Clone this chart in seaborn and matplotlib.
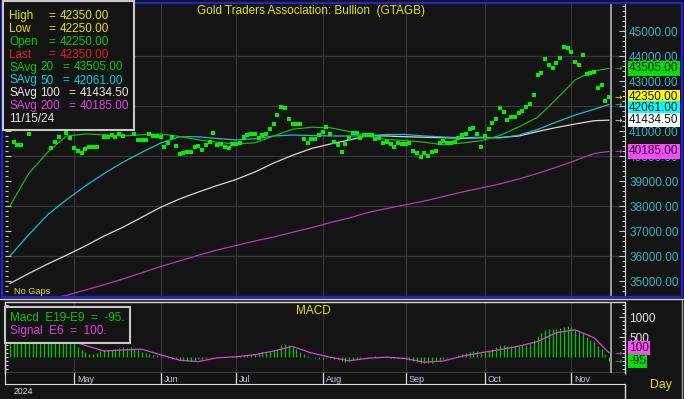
import numpy as np
import pandas as pd
import matplotlib
matplotlib.use("Agg")
import matplotlib.pyplot as plt
from matplotlib.patches import Rectangle
from matplotlib.ticker import MultipleLocator, FixedLocator, FormatStrFormatter
import seaborn as sns

# --- Data ---
DATES = pd.bdate_range("2024-04-08", "2024-11-15")  # 160 trading days

PRICE = [
    41150, 40570, 40440, 40440, 41300, 40900, 41500, 41700, 41600, 41400,
    41250, 40310, 40570, 40770, 41200, 40910, 40710, 40310, 40210, 40110,
    40270, 40370, 40370, 40370, 41150, 40770, 40750, 40840, 40770, 40880,
    40800, 41150, 41200, 40880, 40640, 40640, 40640, 40880, 40800, 40800,
    40770, 40370, 40510, 40750, 40410, 40080, 40130, 40170, 40170, 40350,
    40410, 40240, 40440, 40570, 40930, 40440, 40470, 40370, 40310, 40470,
    40470, 40530, 40770, 40840, 40880, 40870, 40730, 40840, 40870, 41070,
    41270, 41640, 41970, 41930, 41470, 41270, 41270, 41270, 40670, 40530,
    40670, 40670, 40840, 40970, 41170, 40880, 40570, 40440, 40170, 40470,
    40710, 40910, 40910, 40710, 40840, 40840, 40840, 40670, 40710, 40530,
    40570, 40470, 40370, 40530, 40470, 40470, 40530, 40210, 40110, 39970,
    40130, 40010, 40170, 40210, 40510, 40610, 40530, 40530, 40570, 40710,
    40840, 40870, 41070, 41130, 40870, 40370, 40820, 41070, 41310, 41470,
    41910, 41770, 41440, 41550, 41550, 41730, 41810, 41950, 42080, 42430,
    43230, 43330, 43870, 43630, 43520, 43720, 43930, 44370, 44330, 44160,
    43760, 43630, 44040, 43270, 43330, 43370, 42720, 42830, 42210, 42350,
]
LAST_BAR = {"High": 42350, "Low": 42250, "Open": 42250, "Last": 42350}

# moving averages / signal read every 5th bar plus the last one
SAMPLE_DATES = list(DATES[::5]) + [DATES[-1]]
SAVG20 = [38000, 39300, 40150, 40800, 40880, 40850, 40800, 40850, 40880, 40780,
          40650, 40550, 40480, 40530, 40800, 41070, 41150, 41130, 40980, 40790,
          40660, 40620, 40550, 40450, 40520, 40610, 40820, 41160, 41550, 42280,
          43050, 43400, 43505]
SAVG50 = [36000, 36850, 37650, 38250, 38800, 39300, 39750, 40150, 40520, 40770,
          40770, 40700, 40640, 40690, 40800, 40840, 40820, 40800, 40800, 40810,
          40860, 40860, 40800, 40760, 40730, 40750, 40720, 40830, 41060, 41360,
          41640, 41870, 42061]
SAVG100 = [34900, 35300, 35680, 36030, 36400, 36800, 37150, 37550, 37950, 38280,
           38560, 38820, 39060, 39360, 39720, 40030, 40300, 40480, 40640, 40820,
           40800, 40770, 40750, 40730, 40710, 40730, 40740, 40800, 40980, 41140,
           41280, 41410, 41434.5]
SAVG200 = [33950, 34120, 34280, 34420, 34640, 34850, 35080, 35330, 35580, 35800,
           36030, 36240, 36420, 36600, 36760, 36950, 37130, 37340, 37520, 37740,
           37900, 38050, 38200, 38380, 38560, 38720, 38880, 39080, 39300, 39550,
           39820, 40100, 40185]

MACD = [
    820, 800, 780, 760, 740, 720, 700, 680, 660, 630,
    600, 570, 540, 500, 460, 430, 400, 360, 250, 167,
    125, 83, 83, 108, 142, 167, 183, 183, 208, 233,
    250, 225, 250, 208, 167, 125, 108, 83, 58, 42,
    17, -8, -25, -42, -58, -83, -100, -108, -92, -83,
    -58, -42, -25, -8, 0, 8, 8, 0, 0, 17,
    17, 25, 42, 58, 83, 83, 108, 125, 125, 142,
    167, 208, 292, 333, 292, 250, 192, 125, 75, 33,
    0, -25, -42, -42, -25, -17, -42, -58, -100, -125,
    -110, -80, -50, -30, -10, 0, 10, 15, 10, 0,
    -10, -20, -15, -20, -30, -40, -70, -100, -130, -150,
    -160, -150, -140, -110, -80, -50, -30, -10, 10, 40,
    70, 100, 130, 160, 150, 100, 120, 160, 210, 250,
    300, 310, 280, 280, 270, 280, 290, 310, 350, 420,
    520, 600, 680, 700, 690, 700, 720, 760, 770, 740,
    680, 620, 590, 500, 430, 380, 280, 200, 80, -95,
]
SIGNAL = [760, 690, 580, 440, 290, 150, 175, 195, 55, -80,
          -115, -20, 5, 60, 150, 265, 100, -5, -95, -30,
          -5, -40, -130, -100, 20, 108, 183, 270, 385, 610,
          680, 480, 100]

# --- Style ---
BG = "#141414"
GRID = "#363636"
YELLOW = "#e6e600"
sns.set_style("dark", {"axes.facecolor": BG, "figure.facecolor": BG})
plt.rcParams["font.family"] = ["Liberation Sans", "DejaVu Sans"]
FS = 8.5

W, H = 684, 399
fig = plt.figure(figsize=(W / 100, H / 100), dpi=100)
fig.patch.set_facecolor(BG)

def fig_box(x0, y0, x1, y1):
    return [x0 / W, 1 - y1 / H, (x1 - x0) / W, (y1 - y0) / H]

ax = fig.add_axes(fig_box(5, 4, 625, 296))
ax_m = fig.add_axes(fig_box(5, 302, 625, 373), sharex=ax)
ax_d = fig.add_axes(fig_box(5, 373, 625, 384), sharex=ax)

pos = {d: i for i, d in enumerate(DATES)}
idx = np.arange(len(DATES))
sample_pos = [pos[d] for d in SAMPLE_DATES]
month_pos = [i for i in range(1, len(DATES)) if DATES[i].month != DATES[i - 1].month]

XLIM = (-1.3, 163.2)

# --- Main price panel ---
ax.set_xlim(*XLIM)
ax.set_ylim(34400, 46080)
for mp in month_pos:
    ax.axvline(mp, color=GRID, lw=0.9, zorder=0)
for lvl in range(36000, 46000, 2000):
    ax.axhline(lvl, color=GRID, lw=0.9, zorder=0)

ma_styles = [(SAVG200, "#b03cb0"), (SAVG100, "#d8d8d8"), (SAVG50, "#1cbccc"), (SAVG20, "#18b818")]
for vals, col in ma_styles:
    sns.lineplot(x=sample_pos, y=vals, ax=ax, color=col, lw=0.9, zorder=2)
sns.scatterplot(x=idx, y=PRICE, ax=ax, marker="s", s=5, color="#00ee00",
                linewidth=0, zorder=3)
ax.axvline(idx[-1] + 0.4, color="#b4b4b4", lw=1.2, zorder=4)

ax.yaxis.set_major_locator(FixedLocator(list(range(35000, 45001, 1000))))
ax.yaxis.set_minor_locator(MultipleLocator(200))
ax.yaxis.set_major_formatter(FormatStrFormatter("%.2f"))
ax.tick_params(axis="y", which="both", left=True, right=True, labelleft=False,
               labelright=True, direction="in", color="#c8c8c8", labelcolor="#34b4c4",
               labelsize=FS, pad=3)
ax.tick_params(axis="y", which="major", length=4, width=0.8)
ax.tick_params(axis="y", which="minor", length=2.5, width=0.8)
ax.tick_params(axis="x", bottom=False, labelbottom=False)
ax.set_xlabel("")
ax.set_ylabel("")
for side in ["top", "bottom", "left"]:
    ax.spines[side].set_visible(False)
ax.spines["right"].set_color("#d0d0d0")

# value tags on the right axis
tags = [
    (SAVG20[-1], "#00e000", "#18b818", 0),
    (LAST_BAR["Last"], "#ffff00", "#e6e600", 0),
    (SAVG50[-1], "#00ffff", "#1cbccc", -2.8),
    (SAVG100[-1], "#ffffff", "#d8d8d8", 0),
    (SAVG200[-1], "#ff48ff", "#d040d0", 0),
]
for val, bg, arrow_col, dy in tags:
    ax.annotate(f"{val:.2f}", xy=(1.0065, val), xycoords=("axes fraction", "data"),
                xytext=(0, dy), textcoords="offset points", ha="left", va="center",
                fontsize=FS, color="#101010", annotation_clip=False, zorder=6,
                bbox=dict(boxstyle="square,pad=0.1", fc=bg, ec="none"))
    ax.annotate("\u2192", xy=(0.9887, val), xycoords=("axes fraction", "data"),
                ha="center", va="center", fontsize=6.5, color=arrow_col,
                family="DejaVu Sans", annotation_clip=False, zorder=6)

# --- MACD panel ---
ax_m.set_ylim(-400, 1375)
for mp in month_pos:
    ax_m.axvline(mp, color=GRID, lw=0.9, zorder=0)
ax_m.vlines(idx, 0, MACD, color="#00c800", lw=0.9, zorder=2)
sns.lineplot(x=sample_pos, y=SIGNAL, ax=ax_m, color="#e040e0", lw=0.9, zorder=3)
ax_m.axvline(idx[-1] + 0.4, color="#b4b4b4", lw=1.2, zorder=4)
ax_m.yaxis.set_major_locator(FixedLocator([500, 1000]))
ax_m.yaxis.set_minor_locator(MultipleLocator(100))
ax_m.yaxis.set_major_formatter(FormatStrFormatter("%d"))
ax_m.tick_params(axis="y", which="both", left=True, right=True, labelleft=False,
                 labelright=True, direction="in", color="#c8c8c8", labelcolor="#e8e8e8",
                 labelsize=FS, pad=3)
ax_m.tick_params(axis="y", which="major", length=4, width=0.8)
ax_m.tick_params(axis="y", which="minor", length=2.5, width=0.8)
ax_m.tick_params(axis="x", bottom=False, labelbottom=False)
ax_m.set_xlabel("")
ax_m.set_ylabel("")
for side in ax_m.spines:
    ax_m.spines[side].set_color("#d8d8d8")
    ax_m.spines[side].set_linewidth(1.0)

macd_tags = [(SIGNAL[-1], "#ff48ff", "#e040e0", 3.5), (MACD[-1], "#00e000", "#00c800", 0)]
for val, bg, arrow_col, dy in macd_tags:
    ax_m.annotate(f"{val:d}", xy=(1.0065, val), xycoords=("axes fraction", "data"),
                  xytext=(0, dy), textcoords="offset points", ha="left", va="center",
                  fontsize=FS, color="#101010", annotation_clip=False, zorder=6,
                  bbox=dict(boxstyle="square,pad=0.1", fc=bg, ec="none"))
    ax_m.annotate("\u2192", xy=(0.9887, val), xycoords=("axes fraction", "data"),
                  ha="center", va="center", fontsize=6.5, color=arrow_col,
                  family="DejaVu Sans", annotation_clip=False, zorder=6)

# --- Date row ---
ax_d.set_ylim(0, 1)
ax_d.set_xlim(*XLIM)
for mp in month_pos:
    ax_d.axvline(mp, color="#d8d8d8", lw=0.9)
    ax_d.annotate(DATES[mp].strftime("%b"), xy=(mp, 0.4), xytext=(2, 0),
                  textcoords="offset points", ha="left", va="center",
                  fontsize=6.5, color="#c0c8d8")
ax_d.tick_params(axis="both", left=False, bottom=False, labelleft=False, labelbottom=False)
ax_d.spines["top"].set_visible(False)
ax_d.spines["right"].set_visible(False)
for side in ["left", "bottom"]:
    ax_d.spines[side].set_color("#d8d8d8")

# --- Overlay in pixel coordinates for frames, titles and legends ---
ov = fig.add_axes([0, 0, 1, 1], zorder=10)
ov.set_xlim(0, W)
ov.set_ylim(H, 0)
ov.axis("off")
ov.patch.set_alpha(0)

ov.add_patch(Rectangle((1.5, 2.5), 680.5, 294.5, fill=False, ec="#2222d0", lw=1.6))
ov.plot([0, W], [299.2, 299.2], color="#d0d0d0", lw=1.0)
ov.plot([625, 625], [384, H], color="#d8d8d8", lw=1.0)
ov.plot([682, 682], [300, H], color="#a0a0a0", lw=1.0)

ov.text(197, 11, "Gold Traders Association: Bullion  (GTAGB)", color=YELLOW,
        fontsize=FS, va="center", ha="left")
ov.text(14, 292, "No Gaps", color=YELLOW, fontsize=6.6, va="center", ha="left")
ov.text(313, 311, "MACD", color=YELLOW, fontsize=FS, va="center", ha="center")
ov.text(650, 385, "Day", color=YELLOW, fontsize=8.8, va="center", ha="left")
ov.text(14, 391, "2024", color="#e0e0e0", fontsize=6.3, va="center", ha="left")

# price legend box
ov.add_patch(Rectangle((2.5, 1), 131.5, 128.5, fc=BG, ec="#c8c8c8", lw=1.5))
row_y = [15.7, 28.7, 41.6, 54.5, 67.5, 80.5, 93.4, 106.4, 119.3]
rows = [("High", LAST_BAR["High"], YELLOW), ("Low", LAST_BAR["Low"], YELLOW),
        ("Open", LAST_BAR["Open"], "#00cc00"), ("Last", LAST_BAR["Last"], "#e02020")]
for (lab, val, col), y in zip(rows, row_y[:4]):
    ov.text(9, y, lab, color=col, fontsize=FS, va="center")
    ov.text(48, y, "=", color=col, fontsize=FS, va="center")
    ov.text(60, y, f"{val:.2f}", color=col, fontsize=FS, va="center")
avg_rows = [("20", SAVG20[-1], "#00cc00", 62, 74), ("50", SAVG50[-1], "#00d0e0", 62, 74),
            ("100", SAVG100[-1], "#e8e8e8", 68, 80), ("200", SAVG200[-1], "#e040e0", 68, 80)]
for (per, val, col, xe, xv), y in zip(avg_rows, row_y[4:8]):
    ov.text(9, y, "SAvg", color=col, fontsize=FS, va="center")
    ov.text(40.5, y, per, color=col, fontsize=FS, va="center")
    ov.text(xe, y, "=", color=col, fontsize=FS, va="center")
    ov.text(xv, y, f"{val:.2f}", color=col, fontsize=FS, va="center")
ov.text(9, row_y[8], DATES[-1].strftime("%m/%d/%y"), color="#e8e8e8", fontsize=FS, va="center")

# MACD legend box
ov.add_patch(Rectangle((5, 306.7), 125, 36.6, fc=BG, ec="#c8c8c8", lw=1.5))
ov.text(10, 318.3, f"Macd  E19-E9  =  {MACD[-1]}.", color="#00cc00", fontsize=FS, va="center")
ov.text(10, 331, f"Signal  E6  =  {SIGNAL[-1]}.", color="#e040e0", fontsize=FS, va="center")

fig.savefig("out.png", dpi=100, facecolor=BG)
